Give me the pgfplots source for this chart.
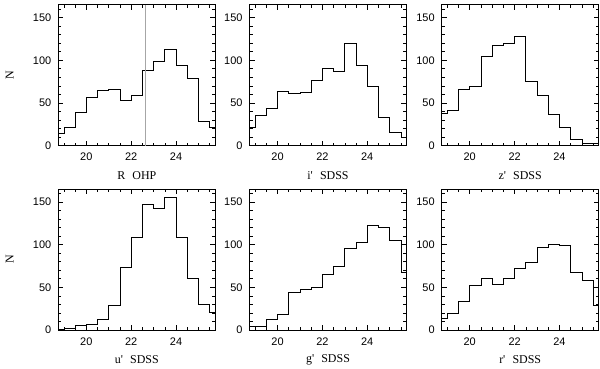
\documentclass[border=0pt]{standalone}
\usepackage{pgfplots}
\pgfplotsset{compat=1.18}
\usepackage{pgfplotstable}
\usepackage{fontspec}
\setmainfont{Liberation Serif}
\newfontfamily\ticksans{Liberation Sans}

% counts per 0.5 mag bin, left bin edge in x (last row closes the final step)
\pgfplotstableread{
x      R    i    z    u    g    r
18.75  15   21   38   1    4    14
19.0   22   35   41   2    4    20
19.5   39   44   66   5    12   34
20.0   57   64   70   7    18   52
20.5   65   61   104  12   44   61
21.0   66   62   118  29   48   54
21.5   53   77   120  73   50   61
22.0   59   91   128  109  65   72
22.5   88   87   75   147  75   79
23.0   99   120  59   142  95   97
23.5   113  94   37   155  103  100
24.0   94   69   21   109  123  99
24.5   79   33   8    61   120  67
25.0   29   16   3    30   105  58
25.5   21   10   3    21   67   29
25.75  21   10   3    21   67   29
}\hist

\pgfplotsset{
  magpanel/.style={
    scale only axis, width=157bp, height=141bp,
    xmin=18.75, xmax=25.75, ymin=0, ymax=165,
    xtick={20,22,24}, minor xtick={19,19.5,...,25.5},
    ytick={0,50,100,150}, minor ytick={10,20,...,160},
    tick align=inside,
    major tick length=5bp, minor tick length=3bp,
    tick style={black, line width=0.6bp},
    axis line style={line width=0.7bp},
    /pgf/number format/assume math mode=true,
    ticklabel style={font=\ticksans\fontsize{11}{13}\selectfont},
    xticklabel style={yshift=-4bp},
    yticklabel style={xshift=-3.5bp},
    xlabel style={font=\fontsize{12}{14}\selectfont,
      at={(axis description cs:0.5,0)}, anchor=center, yshift=-30bp},
    ylabel style={font=\fontsize{12}{14}\selectfont,
      at={(axis description cs:-0.309,0.5)}, anchor=center},
  },
  histo/.style={const plot mark left, black, line width=0.7bp, no marks},
}

\begin{document}
\begin{tikzpicture}
\begin{axis}[magpanel, at={(58.3bp,-4.7bp)}, anchor=north west,
  xlabel={R\hspace{0.6em}OHP}, ylabel={N}]
\addplot[histo] table[x=x, y=R] {\hist};
\addplot[gray!70, line width=0.8bp] coordinates {(22.65,0) (22.65,165)};
\end{axis}
\begin{axis}[magpanel, at={(249.5bp,-4.7bp)}, anchor=north west,
  xlabel={i\textquotesingle\hspace{0.6em}SDSS}]
\addplot[histo] table[x=x, y=i] {\hist};
\end{axis}
\begin{axis}[magpanel, at={(441.7bp,-4.7bp)}, anchor=north west,
  xlabel={z\textquotesingle\hspace{0.6em}SDSS}]
\addplot[histo] table[x=x, y=z] {\hist};
\end{axis}
\begin{axis}[magpanel, at={(58.3bp,-189bp)}, anchor=north west,
  xlabel={u\textquotesingle\hspace{0.6em}SDSS}, ylabel={N}]
\addplot[histo] table[x=x, y=u] {\hist};
\end{axis}
\begin{axis}[magpanel, at={(249.5bp,-189bp)}, anchor=north west,
  xlabel={g\textquotesingle\hspace{0.6em}SDSS}]
\addplot[histo] table[x=x, y=g] {\hist};
\end{axis}
\begin{axis}[magpanel, at={(441.7bp,-189bp)}, anchor=north west,
  xlabel={r\textquotesingle\hspace{0.6em}SDSS}]
\addplot[histo] table[x=x, y=r] {\hist};
\end{axis}
\pgfresetboundingbox
\path[use as bounding box] (0,0) rectangle (600bp,-369bp);
\end{tikzpicture}
\end{document}
